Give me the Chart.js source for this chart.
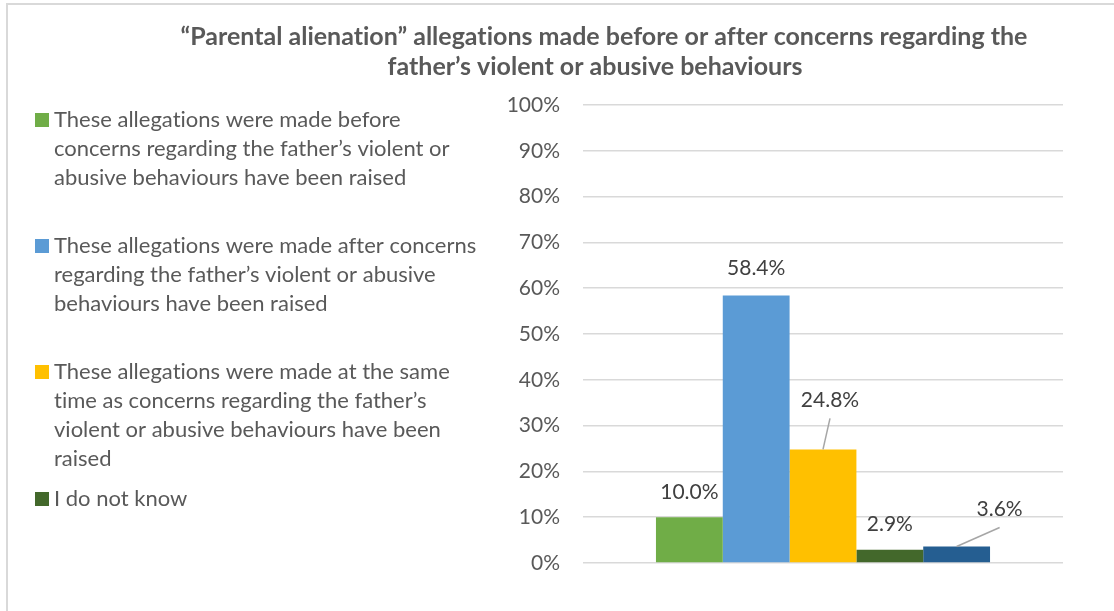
<!DOCTYPE html>
<html>
<head>
<meta charset="utf-8">
<script src="https://cdn.jsdelivr.net/npm/chart.js@4.4.1/dist/chart.umd.min.js"></script>
<style>
  html, body { margin: 0; padding: 0; background: #fff; }
</style>
</head>
<body>
<canvas id="allegationsChart" width="1114" height="611"></canvas>
<script>
// Parental alienation allegations - timing vs. concerns about the father

const titleLines = [
  '\u201cParental alienation\u201d allegations made before or after concerns regarding the',
  'father\u2019s violent or abusive behaviours'
];
const categories = [''];
const seriesLabels = [
  ['These allegations were made before', 'concerns regarding the father\u2019s violent or', 'abusive behaviours have been raised'],
  ['These allegations were made after concerns', 'regarding the father\u2019s violent or abusive', 'behaviours have been raised'],
  ['These allegations were made at the same', 'time as concerns regarding the father\u2019s', 'violent or abusive behaviours have been', 'raised'],
  ['I do not know'],
  []
];
const seriesValues = [10.0, 58.4, 24.8, 2.9, 3.6];
const seriesColors = ['#70AD47', '#5B9BD5', '#FFC000', '#43682B', '#255E91'];
const yTicks = [0, 10, 20, 30, 40, 50, 60, 70, 80, 90, 100];

const FONT = 'Lato, "Open Sans", sans-serif';
const TEXT_GREY = '#595959';

// where each value label sits relative to the top of its bar, and whether it gets a leader line
const labelOffsets = [[0, -25], [0, -27], [7, -49], [0, -25], [43, -37]];
const leaderEnds = [null, null, [7, -31], null, [43, -19]];

// first baseline of each legend entry
const legendBaselines = [127, 253, 379, 506];
const legendLineHeight = 29;

const frame = {
  id: 'frame',
  beforeDraw(chart) {
    const ctx = chart.ctx;
    ctx.save();
    ctx.fillStyle = '#d9d9d9';
    ctx.fillRect(6, 3, 2, chart.height);
    ctx.fillRect(6, 3, chart.width, 2);
    ctx.restore();
  }
};

const titleAndLegend = {
  id: 'titleAndLegend',
  afterDraw(chart) {
    const ctx = chart.ctx;
    ctx.save();
    ctx.textRendering = 'optimizeSpeed'; // no "ti" ligatures
    ctx.fillStyle = TEXT_GREY;
    ctx.textAlign = 'center';
    ctx.textBaseline = 'alphabetic';
    ctx.font = 'bold 25px ' + FONT;
    ctx.fillText(titleLines[0], 604, 45);
    ctx.fillText(titleLines[1], 595, 75);

    ctx.textAlign = 'left';
    ctx.font = '22px ' + FONT;
    chart.data.datasets.forEach((ds, i) => {
      const lines = seriesLabels[i];
      if (!lines.length) return;
      const base = legendBaselines[i];
      ctx.fillStyle = ds.backgroundColor;
      ctx.fillRect(35, base - 14, 14, 14);
      ctx.fillStyle = TEXT_GREY;
      lines.forEach((line, j) => ctx.fillText(line, 54, base + j * legendLineHeight));
    });
    ctx.restore();
  }
};

const valueLabels = {
  id: 'valueLabels',
  afterDatasetsDraw(chart) {
    const ctx = chart.ctx;
    ctx.save();
    chart.data.datasets.forEach((ds, i) => {
      const bar = chart.getDatasetMeta(i).data[0];
      const end = leaderEnds[i];
      if (end) {
        ctx.strokeStyle = '#a6a6a6';
        ctx.lineWidth = 1.5;
        ctx.beginPath();
        ctx.moveTo(bar.x, bar.y);
        ctx.lineTo(bar.x + end[0], bar.y + end[1]);
        ctx.stroke();
      }
      const [dx, dy] = labelOffsets[i];
      ctx.fillStyle = '#404040';
      ctx.font = '21px ' + FONT;
      ctx.textAlign = 'center';
      ctx.textBaseline = 'middle';
      ctx.fillText(ds.data[0].toFixed(1) + '%', bar.x + dx, bar.y + dy);
    });
    ctx.restore();
  }
};

new Chart(document.getElementById('allegationsChart'), {
  type: 'bar',
  data: {
    labels: categories,
    datasets: seriesValues.map((v, i) => ({
      label: seriesLabels[i].join(' '),
      data: [v],
      backgroundColor: seriesColors[i],
      borderWidth: 0,
      barPercentage: 1,
      categoryPercentage: 0.696
    }))
  },
  options: {
    responsive: false,
    animation: false,
    layout: { padding: { left: 483, top: 105, right: 51, bottom: 48 } },
    plugins: {
      legend: { display: false },
      title: { display: false },
      tooltip: { enabled: false }
    },
    scales: {
      x: { display: false },
      y: {
        min: 0,
        max: 100,
        afterFit: scale => { scale.width = 100; },
        afterBuildTicks: scale => { scale.ticks = yTicks.map(v => ({ value: v })); },
        border: { display: false },
        grid: { color: '#d9d9d9', lineWidth: 1.5, drawTicks: false },
        ticks: {
          padding: 23,
          color: TEXT_GREY,
          font: { family: FONT, size: 21 },
          callback: v => v + '%'
        }
      }
    }
  },
  plugins: [frame, titleAndLegend, valueLabels]
});
</script>
</body>
</html>
